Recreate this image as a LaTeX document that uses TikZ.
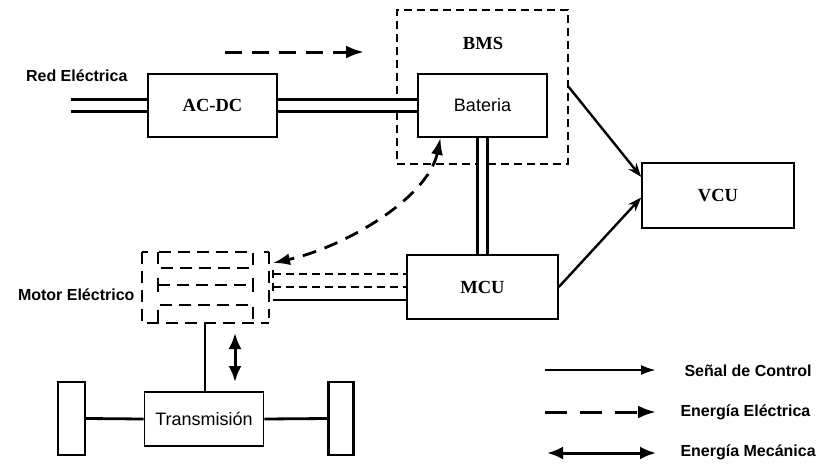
\documentclass[tikz,border=0pt]{standalone}
\usepackage{fontspec}
\setmainfont{Liberation Serif}
\setsansfont{Liberation Sans}
\usetikzlibrary{arrows.meta,calc}
\begin{document}
\begin{tikzpicture}[x=1pt,y=-1pt,
  box/.style={draw, line width=1.6pt, inner sep=0pt, fill=white},
  ser/.style={font=\fontsize{18.5}{20}\selectfont\bfseries},
  san/.style={font=\sffamily\fontsize{18}{19}\selectfont},
  lab/.style={font=\sffamily\bfseries\fontsize{16}{18}\selectfont},
  dblh/.style={double, double distance=9pt, line width=2.8pt},
  dblv/.style={double, double distance=7pt, line width=2.8pt},
  ctrl/.style={line width=2.4pt, -{Stealth[length=14pt,width=10pt]}},
  energy/.style={line width=3pt, dash pattern=on 17pt off 10pt, -{Latex[length=18pt,width=13pt]}},
  energy2/.style={line width=2.8pt, dash pattern=on 14pt off 9pt, {Latex[length=17pt,width=12pt]}-{Latex[length=17pt,width=12pt]}},
  mech/.style={line width=3pt, {Latex[length=16pt,width=13pt]}-{Latex[length=16pt,width=13pt]}},
  motordash/.style={line width=2.4pt, dash pattern=on 12pt off 7pt},
  thin/.style={line width=1.6pt},
  thindash/.style={line width=1.6pt, dash pattern=on 8pt off 5pt},
]
\useasboundingbox (0,0) rectangle (827,466);

% BMS frame
\node[draw, line width=1.5pt, dash pattern=on 8pt off 5pt, minimum width=171pt, minimum height=154pt, inner sep=0pt] (bms) at (482.5,87) {};
\node[ser] (bmslab) at (483,43) {BMS};

% boxes and double lines
\coordinate (gridin) at (71,105.5);
\node[box, minimum width=129pt, minimum height=63pt] (acdc) at (212.5,105.5) {};
\node[box, minimum width=129pt, minimum height=63pt] (bat) at (482.5,105.5) {};
\node[box, minimum width=151pt, minimum height=64pt] (mcu) at (482.5,287) {};
\draw[dblh] (gridin) -- (acdc.west);
\draw[dblh] (acdc.east) -- (bat.west);
\draw[dblv] (bat.south) -- (mcu.north);
\node[box, minimum width=129pt, minimum height=63pt, ser] at (acdc) {AC-DC};
\node[box, minimum width=129pt, minimum height=63pt, san] at (bat) {Bateria};
\node[box, minimum width=151pt, minimum height=64pt, ser] at (mcu) {MCU};

\node[lab, anchor=east] (red) at (131,76) {Red Eléctrica};

% top energy arrow
\coordinate (ea1) at (225,52);
\coordinate (ea2) at (364,52);
\draw[energy] (ea1) -- (ea2);

% VCU
\node[box, ser, minimum width=152pt, minimum height=65pt] (vcu) at (718,195.5) {VCU};
\draw[ctrl] (bms.east) -- ([yshift=18.5pt]vcu.west);
\draw[ctrl] (mcu.east) -- ([yshift=-2pt]vcu.west);

% Motor
\node[minimum width=128pt, minimum height=72pt, inner sep=0pt] (motor) at (205.5,287) {};
\draw[motordash] (142,252) -- (142,323) -- (269,323);
\draw[motordash] (269,252) -- (269,318);
\draw[motordash] (142,252) -- (148,252);
\draw[motordash] (264,252) -- (269,252);
\draw[motordash] (158,252) rectangle (253,268);
\draw[motordash] (158,285) -- (253,285);
\draw[line width=2.4pt] (158,278) -- (158,292) (253,278) -- (253,292);
\draw[motordash] (158,322) -- (158,305) -- (253,305) -- (253,322);
\node[lab, anchor=east] (motorlab) at (138,295) {Motor Eléctrico};

% motor - MCU links
\draw[thindash] (273,274) -- (mcu.west |- 0,274);
\draw[thindash] (273,287) -- (mcu.west |- 0,287);
\draw[thin] (273,300) -- (mcu.west |- 0,300);
\draw[line width=1.6pt] (273,270) -- (273,278) (273,283) -- (273,291);

% curved energy arrow battery <-> motor
\coordinate (bb) at ([xshift=-42pt]bat.south);
\coordinate (mm) at (273,263);
\draw[energy2] (bb) .. controls (428,198) and (345,247) .. (mm);

% Transmission and wheels
\node[box, san, minimum width=119pt, minimum height=54pt] (trans) at (204,419) {Transmisión};
\node[box, minimum width=27pt, minimum height=73pt, line width=2.4pt] (wl) at (71.5,418.5) {};
\node[box, minimum width=25pt, minimum height=73pt, line width=2.4pt] (wr) at (341,418.5) {};
\draw[line width=2.8pt] (wl.east) -- (trans.west);
\draw[line width=2.8pt] (trans.east) -- (wr.west);
\draw[line width=2.8pt] (205,323) -- (trans.north -| 205,0);
\coordinate (m1) at (235,333);
\coordinate (m2) at (235,382);
\draw[mech] (m1) -- (m2);

% legend
\coordinate (l1a) at (545,370); \coordinate (l1b) at (656,370);
\coordinate (l2a) at (545,412); \coordinate (l2b) at (656,412);
\coordinate (l3a) at (547,453); \coordinate (l3b) at (656,453);
\draw[line width=2.4pt, -{Latex[length=15pt,width=10pt]}] (l1a) -- (l1b);
\draw[line width=3pt, dash pattern=on 22pt off 13pt, -{Latex[length=18pt,width=13pt]}] (l2a) -- (l2b);
\draw[mech] (l3a) -- (l3b);
\node[lab, anchor=west] (t1) at (681,371) {Señal de Control};
\node[lab, anchor=west] (t2) at (677,412) {Energía Eléctrica};
\node[lab, anchor=west] (t3) at (677,452) {Energía Mecánica};
\end{tikzpicture}
\end{document}
